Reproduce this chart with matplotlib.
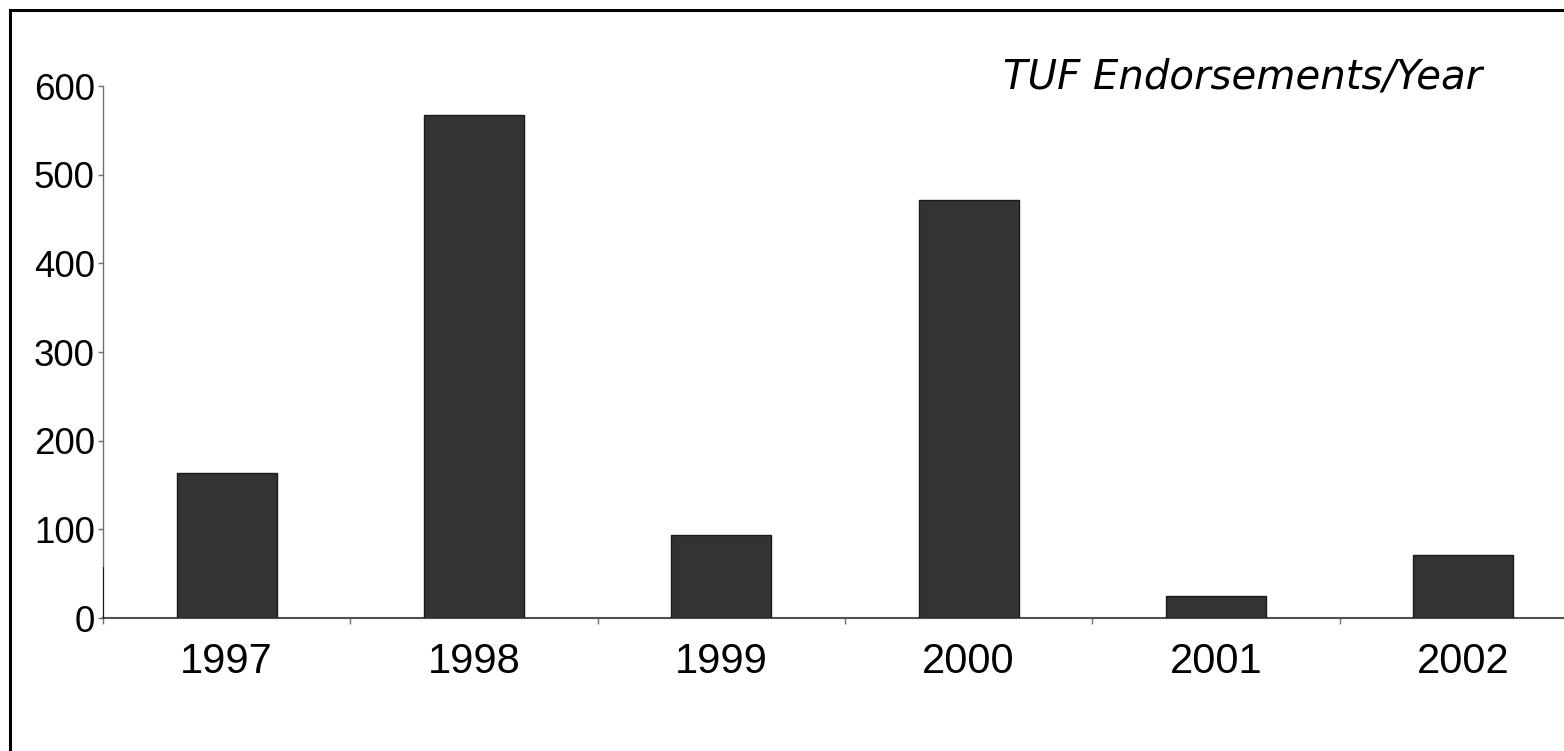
import matplotlib
matplotlib.use("Agg")
import matplotlib.pyplot as plt
from matplotlib.lines import Line2D
import numpy as np

YEARS  = ["1997", "1998", "1999", "2000", "2001", "2002"]
COUNTS = [164, 567, 94, 471, 25, 71]
Y_TICKS = [0, 100, 200, 300, 400, 500, 600]
TITLE = "TUF Endorsements/Year"

BAR_COLOR  = "#333333"
AXIS_COLOR = "#707070"

W, H, DPI = 1564, 751, 100
fig = plt.figure(figsize=(W / DPI, H / DPI), dpi=DPI)
fig.patch.set_facecolor("white")

# axes box in pixels: x 103..1587 (runs past the right edge), y 86..618
ax = fig.add_axes([103 / W, (H - 618) / H, (1587 - 103) / W, (618 - 86) / H])

x = np.arange(len(YEARS))
ax.bar(x, COUNTS, width=0.405, color=BAR_COLOR, edgecolor="#1a1a1a", linewidth=1.0, zorder=3)

ax.set_xlim(-0.5, len(YEARS) - 0.5)
ax.set_ylim(0, 600)

ax.set_xticks(x)
ax.set_xticklabels(YEARS, fontsize=30, family="Liberation Sans")
ax.set_xticks(np.arange(-0.5, len(YEARS), 1.0), minor=True)
ax.tick_params(axis="x", which="major", length=0, pad=17)
ax.tick_params(axis="x", which="minor", length=4, width=1, color=AXIS_COLOR, direction="out")

ax.set_yticks(Y_TICKS)
ax.set_yticklabels([str(v) for v in Y_TICKS], fontsize=26.5, family="Liberation Sans")
ax.tick_params(axis="y", length=3.5, width=1, color=AXIS_COLOR, direction="out", pad=2.5)

for side in ("top", "right"):
    ax.spines[side].set_visible(False)
ax.spines["left"].set_color(AXIS_COLOR)
ax.spines["left"].set_linewidth(1.0)
ax.spines["bottom"].set_color("#505050")
ax.spines["bottom"].set_linewidth(1.5)

# the bottom piece of the value axis is drawn darker in the original
ax.axvline(-0.5, ymin=0, ymax=56 / 600, color="black", linewidth=1.2, zorder=4)

fig.text(1482 / W, (H - 88) / H, TITLE, ha="right", va="baseline",
         fontsize=29, style="italic", family="DejaVu Sans", color="black")

# outer frame (left and top edges visible)
fig.add_artist(Line2D([10 / W, 10 / W], [0, (H - 10) / H], transform=fig.transFigure,
                      color="black", linewidth=2.2))
fig.add_artist(Line2D([10 / W, 1.0], [(H - 10) / H, (H - 10) / H], transform=fig.transFigure,
                      color="black", linewidth=2.2))

fig.savefig("out.png", dpi=DPI)
